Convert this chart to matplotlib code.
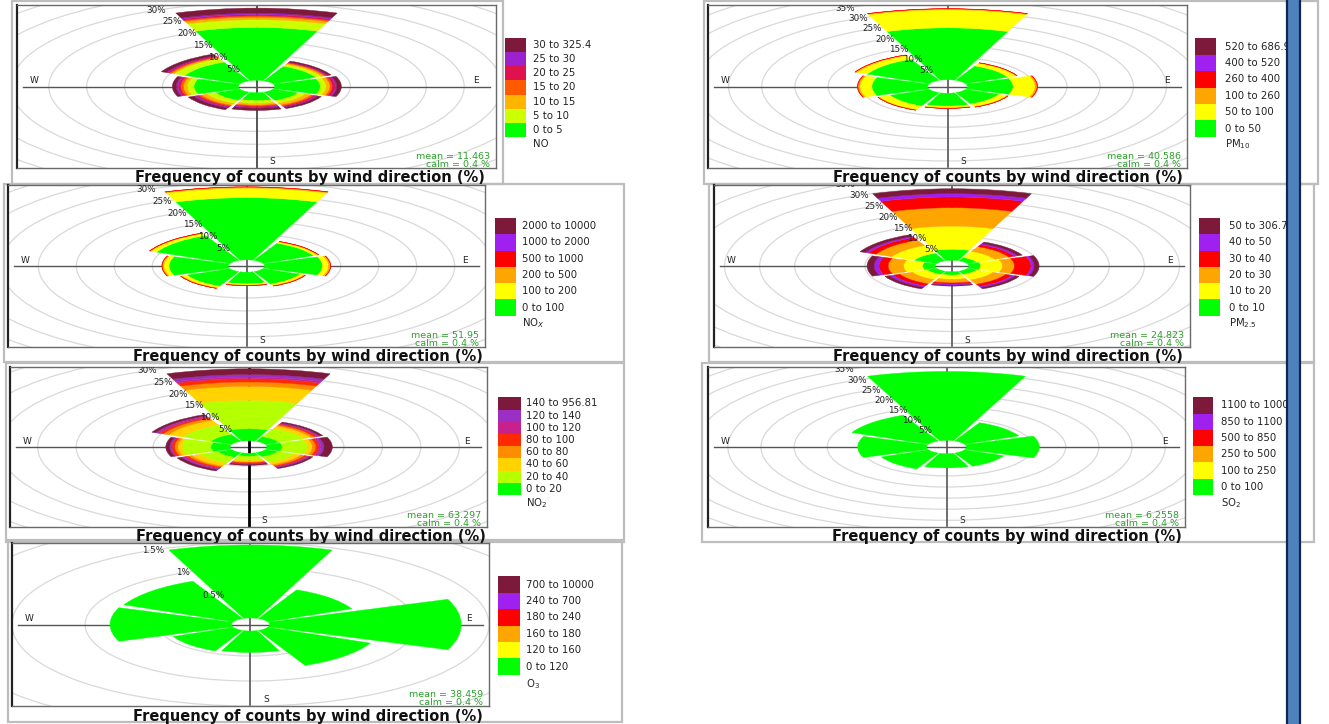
import matplotlib
matplotlib.use("Agg")
import matplotlib.pyplot as plt
from matplotlib.patches import Wedge, Rectangle, Circle
import numpy as np

W_PX, H_PX = 1329, 724

# ---------------- data ----------------
directions = [0, 45, 90, 135, 180, 225, 270, 315]   # N, NE, E, SE, S, SW, W, NW
title_text = "Frequency of counts by wind direction (%)"

# NO
no_bins = ["0 to 5", "5 to 10", "10 to 15", "15 to 20", "20 to 25", "25 to 30", "30 to 325.4"]
no_cols = ["#00ff00", "#ccff00", "#ffb400", "#ff5a00", "#e0124e", "#9b22cc", "#7d1a3c"]
no_freq = [
    [20.5, 3.0, 1.0, 0.5, 0.5, 0.5, 2.0],
    [6.2, 0.8, 0.4, 0.3, 0.2, 0.1, 0.4],
    [6.0, 0.8, 0.5, 0.3, 0.4, 0.2, 0.6],
    [3.6, 1.1, 0.8, 0.4, 0.4, 0.2, 0.5],
    [3.1, 1.1, 0.7, 0.4, 0.4, 0.3, 0.9],
    [3.5, 1.3, 0.8, 0.4, 0.4, 0.3, 0.8],
    [5.85, 0.9, 0.5, 0.35, 0.35, 0.25, 0.5],
    [8.0, 1.5, 0.4, 0.3, 0.3, 0.2, 0.7],
]
no_rings = [5, 10, 15, 20, 25, 30]

six_cols = ["#00ff00", "#ffff00", "#ffa500", "#ff0000", "#a020f0", "#7d1a3c"]

# PM10
pm10_bins = ["0 to 50", "50 to 100", "100 to 260", "260 to 400", "400 to 520", "520 to 686.93"]
pm10_freq = [
    [23.0, 8.0, 0.4, 0.1, 0, 0],
    [7.0, 1.3, 0.2, 0.05, 0, 0],
    [6.9, 3.3, 0.3, 0.1, 0, 0],
    [5.5, 1.3, 0.2, 0.05, 0, 0],
    [5.7, 0.8, 0.2, 0.05, 0, 0],
    [6.5, 1.8, 0.2, 0.05, 0, 0],
    [8.4, 1.8, 0.3, 0.1, 0, 0],
    [10.3, 1.7, 0.3, 0.05, 0, 0],
]
pm10_rings = [5, 10, 15, 20, 25, 30, 35]

# NOx
nox_bins = ["0 to 100", "100 to 200", "200 to 500", "500 to 1000", "1000 to 2000", "2000 to 10000"]
nox_freq = [
    [24.1, 3.7, 0.4, 0.1, 0, 0],
    [7.3, 0.5, 0.2, 0.05, 0, 0],
    [7.6, 0.8, 0.25, 0.05, 0, 0],
    [5.3, 0.6, 0.2, 0.05, 0, 0],
    [4.5, 0.5, 0.2, 0.05, 0, 0],
    [6.2, 0.7, 0.2, 0.05, 0, 0],
    [7.8, 0.7, 0.2, 0.05, 0, 0],
    [10.6, 0.8, 0.2, 0.05, 0, 0],
]
nox_rings = [5, 10, 15, 20, 25, 30]

# PM2.5
pm25_bins = ["0 to 10", "10 to 20", "20 to 30", "30 to 40", "40 to 50", "50 to 306.77"]
pm25_freq = [
    [4.6, 9.7, 7.7, 4.5, 1.4, 2.0],
    [1.5, 2.8, 2.2, 0.9, 0.5, 0.7],
    [1.7, 3.1, 1.7, 2.35, 0.45, 0.7],
    [1.5, 2.5, 2.0, 1.0, 0.5, 0.6],
    [1.4, 1.8, 1.5, 0.5, 0.5, 0.3],
    [1.5, 2.3, 2.0, 1.0, 0.6, 0.7],
    [1.8, 2.7, 2.2, 1.3, 0.7, 1.0],
    [3.5, 3.5, 2.5, 1.2, 0.5, 0.8],
]
pm25_rings = [5, 10, 15, 20, 25, 30, 35]

# NO2
no2_bins = ["0 to 20", "20 to 40", "40 to 60", "60 to 80", "80 to 100", "100 to 120", "120 to 140", "140 to 956.81"]
no2_cols = ["#00ff00", "#b4ff00", "#ffd200", "#ff8c00", "#ff2a00", "#c8208c", "#9b2fc4", "#7d1a3c"]
no2_freq = [
    [4.7, 11.0, 5.4, 1.7, 1.3, 0.6, 1.0, 2.2],
    [2.0, 3.5, 1.0, 0.5, 0.4, 0.2, 0.2, 0.4],
    [2.0, 3.26, 0.64, 0.45, 0.4, 0.25, 0.43, 1.07],
    [1.8, 2.4, 0.9, 0.5, 0.4, 0.2, 0.2, 0.4],
    [1.2, 1.6, 0.6, 0.3, 0.3, 0.2, 0.2, 0.3],
    [2.0, 2.5, 1.2, 0.5, 0.4, 0.3, 0.3, 0.6],
    [2.5, 3.7, 0.6, 0.4, 0.35, 0.15, 0.15, 0.5],
    [3.0, 4.0, 2.0, 0.8, 0.5, 0.3, 0.3, 0.5],
]
no2_rings = [5, 10, 15, 20, 25, 30]

# SO2
so2_bins = ["0 to 100", "100 to 250", "250 to 500", "500 to 850", "850 to 1100", "1100 to 10000"]
so2_freq = [
    [31.0, 0, 0, 0, 0, 0],
    [9.0, 0, 0, 0, 0, 0],
    [11.0, 0, 0, 0, 0, 0],
    [6.5, 0, 0, 0, 0, 0],
    [6.4, 0, 0, 0, 0, 0],
    [7.8, 0, 0, 0, 0, 0],
    [10.4, 0, 0, 0, 0, 0],
    [12.7, 0, 0, 0, 0, 0],
]
so2_rings = [5, 10, 15, 20, 25, 30, 35]

# O3
o3_bins = ["0 to 120", "120 to 160", "160 to 180", "180 to 240", "240 to 700", "700 to 10000"]
o3_freq = [
    [1.46, 0, 0, 0, 0, 0],
    [0.63, 0, 0, 0, 0, 0],
    [1.31, 0, 0, 0, 0, 0],
    [0.77, 0, 0, 0, 0, 0],
    [0.43, 0, 0, 0, 0, 0],
    [0.45, 0, 0, 0, 0, 0],
    [0.83, 0, 0, 0, 0, 0],
    [0.82, 0, 0, 0, 0, 0],
]
o3_rings = [0.5, 1, 1.5]

means = ["11.463", "40.586", "51.95", "24.823", "63.297", "6.2558", "38.459"]
calm = "0.4 %"

# ---------------- layout (pixels) ----------------
panels = [
    dict(freq=no_freq, bins=no_bins, cols=no_cols, rings=no_rings, step=5, pol="NO",
         box=(17, 5, 496, 168), L=31.6, off=2.4, frame=(12, 1, 503, 184), title=(310, 177.5),
         leg=(505, 526, 38.3, 136.7, 533, 144), mean=means[0], vline=("#555555", 1.4)),
    dict(freq=pm10_freq, bins=pm10_bins, cols=six_cols, rings=pm10_rings, step=5, pol="PM$_{10}$",
         box=(708, 5, 1187, 168), L=36.1, off=3.0, frame=(704, 1, 1318, 184), title=(1008, 177.5),
         leg=(1195, 1216, 38.3, 136.7, 1225, 144), mean=means[1], vline=("#555555", 1.2)),
    dict(freq=nox_freq, bins=nox_bins, cols=six_cols, rings=nox_rings, step=5, pol="NO$_X$",
         box=(8, 185, 485, 347), L=31.4, off=2.4, frame=(4, 184, 624, 362), title=(308, 356),
         leg=(495, 516, 218, 315.7, 522, 323), mean=means[2], vline=("#555555", 1.2)),
    dict(freq=pm25_freq, bins=pm25_bins, cols=six_cols, rings=pm25_rings, step=5, pol="PM$_{2.5}$",
         box=(714, 185, 1190, 347), L=33.9, off=2.4, frame=(709, 184, 1314, 362), title=(1008, 357),
         leg=(1199, 1220, 218, 315.7, 1229, 323), mean=means[3], vline=("#555555", 1.2)),
    dict(freq=no2_freq, bins=no2_bins, cols=no2_cols, rings=no2_rings, step=5, pol="NO$_2$",
         box=(10, 367, 487, 527), L=31.0, off=2.4, frame=(6, 363, 624, 542), title=(311, 536),
         leg=(498, 521, 397.3, 495, 526, 503), mean=means[4], vline=("#000000", 2.0)),
    dict(freq=so2_freq, bins=so2_bins, cols=six_cols, rings=so2_rings, step=5, pol="SO$_2$",
         box=(708, 367, 1185, 527), L=36.0, off=3.0, frame=(702, 363, 1314, 542), title=(1007, 536),
         leg=(1193, 1213, 397.3, 495, 1221, 503), mean=means[5], vline=("#555555", 1.2)),
    dict(freq=o3_freq, bins=o3_bins, cols=six_cols, rings=o3_rings, step=0.5, pol="O$_3$",
         box=(12, 543, 489, 706), L=1.63, off=0.13, frame=(8, 540, 622, 722), title=(308, 716),
         leg=(498, 520, 576.3, 674.7, 526, 684), mean=means[6], vline=("#555555", 1.2)),
]

HW = 20.5          # half angular width of each sector (deg)
LABEL_DIR = 336    # compass angle of the % labels

fig = plt.figure(figsize=(W_PX / 100, H_PX / 100), dpi=100)
fig.patch.set_facecolor("white")

# background overlay: frames, titles, legends
bg = fig.add_axes([0, 0, 1, 1], zorder=0)
bg.set_xlim(0, W_PX)
bg.set_ylim(H_PX, 0)
bg.axis("off")

for p in panels:
    fx0, fy0, fx1, fy1 = p["frame"]
    bg.add_patch(Rectangle((fx0, fy0), fx1 - fx0, fy1 - fy0, fill=False, ec="#bdbdbd", lw=1.6))
    bg.text(p["title"][0], p["title"][1], title_text, ha="center", va="center",
            fontsize=10.5, fontweight="bold", color="#111111")
    lx0, lx1, ly0, ly1, tx, poly = p["leg"]
    n = len(p["bins"])
    h = (ly1 - ly0) / n
    for k in range(n):
        j = n - 1 - k
        bg.add_patch(Rectangle((lx0, ly0 + k * h), lx1 - lx0, h, fc=p["cols"][j], ec="none"))
        bg.text(tx, ly0 + (k + 0.5) * h, p["bins"][j], ha="left", va="center",
                fontsize=7.3, color="#222222")
    bg.text(tx, poly, p["pol"], ha="left", va="center", fontsize=7.3, color="#222222")

# rose panels
for p in panels:
    bx0, by0, bx1, by1 = p["box"]
    ax = fig.add_axes([bx0 / W_PX, 1 - by1 / H_PX, (bx1 - bx0) / W_PX, (by1 - by0) / H_PX], zorder=2)
    L, off, step = p["L"], p["off"], p["step"]
    ax.set_xlim(-L, L)
    ax.set_ylim(-L, L)
    ax.set_xticks([])
    ax.set_yticks([])
    for s in ax.spines.values():
        s.set_color("#6a6a6a")
        s.set_linewidth(1.0)
    ax.spines["left"].set_color("#222222")
    ax.spines["left"].set_linewidth(1.6)

    for k in range(1, 16):
        ax.add_patch(Circle((0, 0), off + k * step, fill=False, ec="#d9d9d9", lw=0.9, zorder=1))
    ax.plot([-0.975 * L, 0.975 * L], [0, 0], color="#555555", lw=1.0, zorder=2)
    ax.plot([0, 0], [-0.985 * L, 0.985 * L], color=p["vline"][0], lw=p["vline"][1], zorder=2)

    freq = np.array(p["freq"], dtype=float)
    cum = np.cumsum(freq, axis=1)
    for i, d in enumerate(directions):
        for j in range(freq.shape[1]):
            if freq[i, j] <= 0:
                continue
            r_out = off + cum[i, j]
            ax.add_patch(Wedge((0, 0), r_out, 90 - d - HW, 90 - d + HW, width=freq[i, j],
                               fc=p["cols"][j], ec=p["cols"][j], lw=0.3, zorder=3))

    a = np.deg2rad(90 - LABEL_DIR)
    for v in p["rings"]:
        r = off + v
        ax.text(r * np.cos(a), r * np.sin(a), f"{v:g}%", ha="center", va="center",
                fontsize=6.3, color="#222222", zorder=5, clip_on=True)

    ax.text(0.036, 0.535, "W", transform=ax.transAxes, ha="center", va="center", fontsize=6.5, color="#222222")
    ax.text(0.958, 0.535, "E", transform=ax.transAxes, ha="center", va="center", fontsize=6.5, color="#222222")
    ax.text(0.533, 0.04, "S", transform=ax.transAxes, ha="center", va="center", fontsize=6.5, color="#222222")
    ax.text(0.988, 0.072, f"mean = {p['mean']}", transform=ax.transAxes, ha="right", va="center",
            fontsize=6.8, color="#2ca02c", zorder=6)
    ax.text(0.988, 0.022, f"calm = {calm}", transform=ax.transAxes, ha="right", va="center",
            fontsize=6.8, color="#2ca02c", zorder=6)

# blue vertical bar on top
top = fig.add_axes([0, 0, 1, 1], zorder=10)
top.set_xlim(0, W_PX)
top.set_ylim(H_PX, 0)
top.axis("off")
top.patch.set_alpha(0)
top.add_patch(Rectangle((1287, -2), 13, H_PX + 4, fc="#4f81bd", ec="#14254d", lw=1.6))

fig.savefig("out.png", dpi=100, facecolor="white")
